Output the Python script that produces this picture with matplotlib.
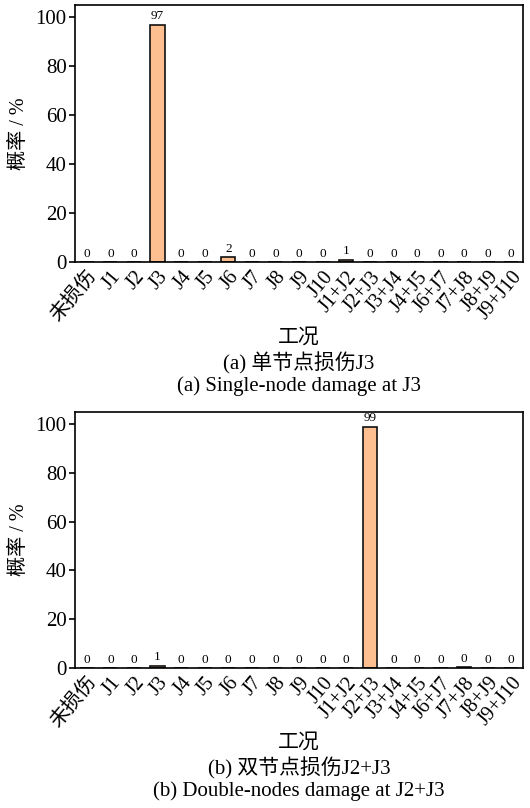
import matplotlib
matplotlib.use("Agg")
import matplotlib.pyplot as plt
import numpy as np

plt.rcParams['font.family'] = ['Liberation Serif', 'Noto Sans CJK SC']
plt.rcParams['axes.unicode_minus'] = False

categories = ["未损伤", "J1", "J2", "J3", "J4", "J5", "J6", "J7", "J8", "J9", "J10",
              "J1+J2", "J2+J3", "J3+J4", "J4+J5", "J6+J7", "J7+J8", "J8+J9", "J9+J10"]
values_a = [0, 0, 0, 97, 0, 0, 2, 0, 0, 0, 0, 1, 0, 0, 0, 0, 0, 0, 0]
labels_a = [0, 0, 0, 97, 0, 0, 2, 0, 0, 0, 0, 1, 0, 0, 0, 0, 0, 0, 0]
values_b = [0, 0, 0, 1, 0, 0, 0, 0, 0, 0, 0, 0, 99, 0, 0, 0, 0.3, 0, 0]
labels_b = [0, 0, 0, 1, 0, 0, 0, 0, 0, 0, 0, 0, 99, 0, 0, 0, 0, 0, 0]
yticks = [0, 20, 40, 60, 80, 100]
ylabel = "概率 / %"
xlabel = "工况"
caps_a = ["(a) 单节点损伤J3", "(a) Single-node damage at J3"]
caps_b = ["(b) 双节点损伤J2+J3", "(b) Double-nodes damage at J2+J3"]

W, H = 530, 808
fig = plt.figure(figsize=(W / 100, H / 100), dpi=100)

def px_axes(l, t, r, b):
    return fig.add_axes([l / W, 1 - b / H, (r - l) / W, (b - t) / H])

def draw(ax, vals, labs):
    x = np.arange(len(categories))
    ax.bar(x, vals, width=0.6, color="#FDBF90", edgecolor="#111111", linewidth=1.2)
    for xi, v, l in zip(x, vals, labs):
        ax.text(xi, v + 0.9, str(l), ha="center", va="bottom", fontsize=9.5)
    ax.set_xlim(-0.5, len(categories) - 0.5)
    ax.set_ylim(0, 105)
    ax.set_yticks(yticks)
    ax.set_xticks(x)
    ax.set_xticklabels(categories, rotation=50, ha="right", rotation_mode="anchor",
                       fontsize=14.5)
    ax.tick_params(axis="x", length=0, pad=4)
    ax.tick_params(axis="y", direction="out", length=4, width=1.2, labelsize=15, pad=2)
    for s in ax.spines.values():
        s.set_linewidth(1.2)
    ax.set_ylabel(ylabel, fontsize=14.5, labelpad=5)

ax1 = px_axes(75, 5, 523, 262)
draw(ax1, values_a, labels_a)
ax2 = px_axes(75, 412, 523, 668)
draw(ax2, values_b, labels_b)

cx = 299 / W
fig.text(cx, 1 - 338 / H, xlabel, ha="center", va="center", fontsize=15)
fig.text(cx, 1 - 363 / H, caps_a[0], ha="center", va="center", fontsize=15)
fig.text(cx, 1 - 386 / H, caps_a[1], ha="center", va="center", fontsize=15)
fig.text(cx, 1 - 743 / H, xlabel, ha="center", va="center", fontsize=15)
fig.text(cx, 1 - 768 / H, caps_b[0], ha="center", va="center", fontsize=15)
fig.text(cx, 1 - 791 / H, caps_b[1], ha="center", va="center", fontsize=15)

fig.savefig("out.png", dpi=100)
